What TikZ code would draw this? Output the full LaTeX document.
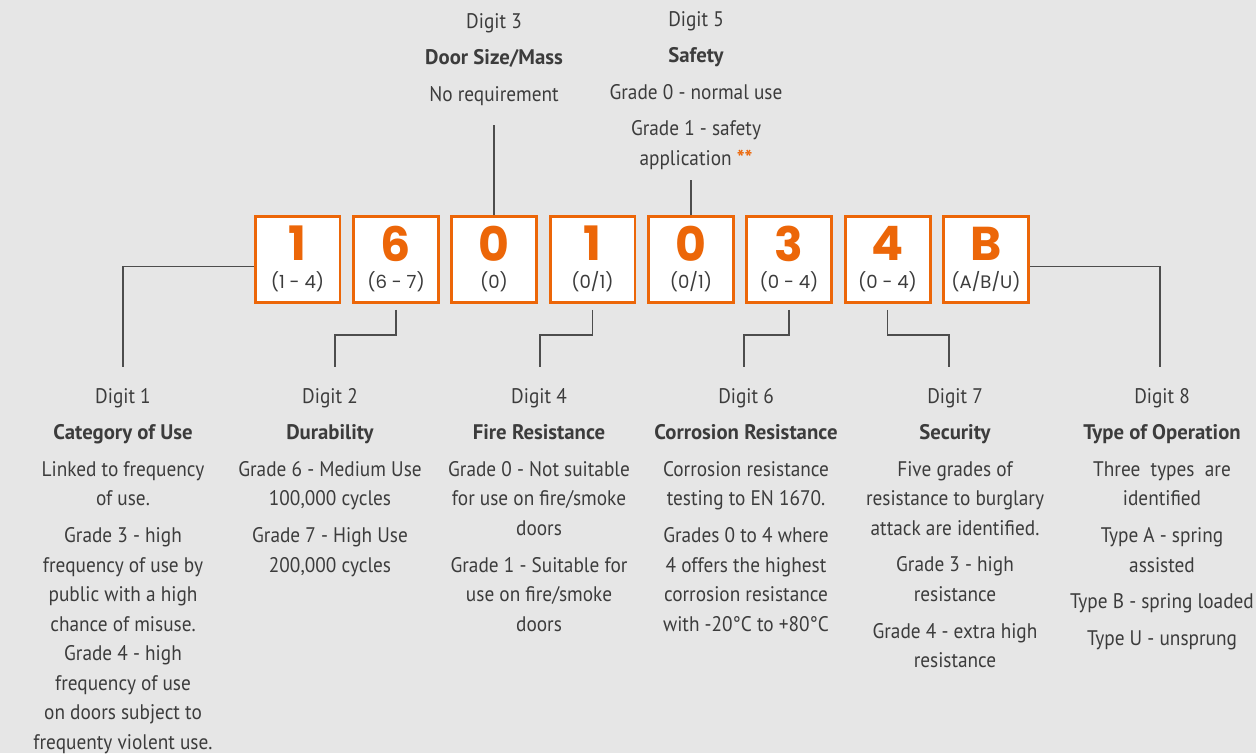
\documentclass[tikz,border=0pt]{standalone}
\usepackage{fontspec}
\setmainfont{PT Sans}[UprightFeatures={FakeStretch=0.915}, BoldFeatures={FakeStretch=0.985}]
\newfontfamily\boxfont{Poppins}
\usepackage{xcolor}
\definecolor{doorbg}{HTML}{E6E6E6}
\definecolor{doororange}{HTML}{EC6608}
\definecolor{doortext}{HTML}{3C3C3C}
\definecolor{doorline}{HTML}{4D4D4D}
\usetikzlibrary{positioning}

\begin{document}
\begin{tikzpicture}[x=0.02cm, y=-0.02cm,
  digbox/.style={rectangle, draw=doororange, line width=1.7pt, fill=white,
    minimum width=1.70cm, minimum height=1.72cm, inner sep=0},
  bignum/.style={font=\boxfont\bfseries\fontsize{27}{27}\selectfont, text=doororange, inner sep=0},
  rangetxt/.style={font=\boxfont\fontsize{10.3}{12}\selectfont, text=doortext, inner sep=0},
  info/.style={anchor=north, align=center, inner sep=0, text=doortext,
    font=\fontsize{12}{16.8}\selectfont},
  conn/.style={draw=doorline, line width=0.85pt}
]
\fill[doorbg] (0,0) rectangle (1256,753);
\useasboundingbox (0,0) rectangle (1256,753);

% the eight code boxes
\node[digbox] (b1) at (297.5,259.5) {};
\node[digbox] (b2) at (396,259.5) {};
\node[digbox] (b3) at (494,259.5) {};
\node[digbox] (b4) at (592.5,259.5) {};
\node[digbox] (b5) at (691,259.5) {};
\node[digbox] (b6) at (789,259.5) {};
\node[digbox] (b7) at (887.5,259.5) {};
\node[digbox] (b8) at (986,259.5) {};

\node[bignum] (n1) at (297.5,243.5) {1};
\node[bignum] (n2) at (396,243.5) {6};
\node[bignum] (n3) at (494,243.5) {0};
\node[bignum] (n4) at (592.5,243.5) {1};
\node[bignum] (n5) at (691,243.5) {0};
\node[bignum] (n6) at (789,243.5) {3};
\node[bignum] (n7) at (887.5,243.5) {4};
\node[bignum] (n8) at (986,243.5) {B};

\node[rangetxt] (r1) at (297.5,282) {(1 - 4)};
\node[rangetxt] (r2) at (396,282) {(6 - 7)};
\node[rangetxt] (r3) at (494,282) {(0)};
\node[rangetxt] (r4) at (592.5,282) {(0/1)};
\node[rangetxt] (r5) at (691,282) {(0/1)};
\node[rangetxt] (r6) at (789,282) {(0 - 4)};
\node[rangetxt] (r7) at (887.5,282) {(0 - 4)};
\node[rangetxt] (r8) at (986,282) {(A/B/U)};

% descriptions
\node[info] (t1) at (123,388) {Digit 1\\[4pt]\textbf{Category of Use}\\[4pt]
  Linked to frequency\\of use.\\[4pt]
  Grade 3 - high\\frequency of use by\\public with a high\\chance of misuse.\\
  Grade 4 - high\\frequency of use\\on doors subject to\\frequenty violent use.};
\node[info] (t2) at (330,388) {Digit 2\\[4pt]\textbf{Durability}\\[4pt]
  Grade 6 - Medium Use\\100,000 cycles\\[4pt]
  Grade 7 - High Use\\200,000 cycles};
\node[info] (t3) at (494,13) {Digit 3\\[4pt]\textbf{Door Size/Mass}\\[4pt]
  No requirement};
\node[info] (t4) at (539,388) {Digit 4\\[4pt]\textbf{Fire Resistance}\\[4pt]
  Grade 0 - Not suitable\\for use on fire/smoke\\doors\\[4pt]
  Grade 1 - Suitable for\\use on fire/smoke\\doors};
\node[info] (t5) at (696,11) {Digit 5\\[4pt]\textbf{Safety}\\[4pt]
  Grade 0 - normal use\\[4pt]
  Grade 1 - safety\\application {\color{doororange}\textbf{**}}};
\node[info] (t6) at (746,388) {Digit 6\\[4pt]\textbf{Corrosion Resistance}\\[4pt]
  Corrosion resistance\\testing to EN 1670.\\[4pt]
  Grades 0 to 4 where\\4 offers the highest\\corrosion resistance\\with -20°C to +80°C};
\node[info] (t7) at (955,388) {Digit 7\\[4pt]\textbf{Security}\\[4pt]
  Five grades of\\resistance to burglary\\attack are identified.\\[4pt]
  Grade 3 - high\\resistance\\[4pt]
  Grade 4 - extra high\\resistance};
\node[info] (t8) at (1162,388) {Digit 8\\[4pt]\textbf{Type of Operation}\\[4pt]
  Three~ types~ are\\identified\\[4pt]
  Type A - spring\\assisted\\[4pt]
  Type B - spring loaded\\[4pt]
  Type U - unsprung};

% leader ends
\coordinate (e1) at (123,367);
\coordinate (e2) at (335,367);
\coordinate (e3) at (494,125);
\coordinate (e4) at (540,367);
\coordinate (e5) at (691,180);
\coordinate (e6) at (744,367);
\coordinate (e7) at (949,367);
\coordinate (e8) at (1160,367);

\draw[conn] ([yshift=-0.144cm]b1.west) -| (e1);
\draw[conn] ([yshift=-0.12cm]b2.south) -- ++(0,-0.5cm) -| (e2);
\draw[conn] (b3.north) -- (e3);
\draw[conn] ([yshift=-0.12cm]b4.south) -- ++(0,-0.5cm) -| (e4);
\draw[conn] (b5.north) -- (e5);
\draw[conn] ([yshift=-0.12cm]b6.south) -- ++(0,-0.5cm) -| (e6);
\draw[conn] ([yshift=-0.12cm]b7.south) -- ++(0,-0.5cm) -| (e7);
\draw[conn] ([yshift=-0.144cm]b8.east) -| (e8);
\end{tikzpicture}
\end{document}
